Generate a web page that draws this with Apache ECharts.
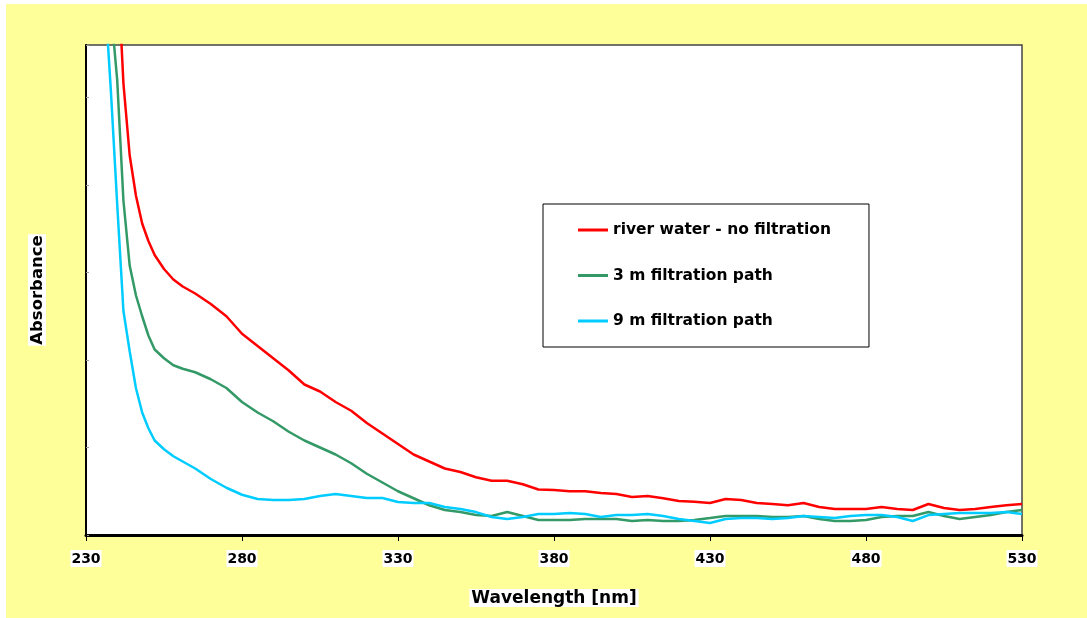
<!DOCTYPE html>
<html>
<head>
<meta charset="utf-8">
<script src="https://cdn.jsdelivr.net/npm/echarts@6/dist/echarts.min.js"></script>
<style>
  html, body { margin: 0; padding: 0; background: #fff; }
  #wrap { position: relative; width: 1087px; height: 618px; overflow: hidden; }
  #paper { position: absolute; left: 6px; top: 4px; right: 0; bottom: 0; background: #FFFF99; }
  #main { position: absolute; left: 0; top: 0; width: 1087px; height: 618px; }
</style>
</head>
<body>
<div id="wrap">
  <div id="paper"></div>
  <div id="main"></div>
</div>
<script>
// wavelengths in nm (finer steps where the curves drop fast)
var wavelengths = [236, 238, 240, 242, 244, 246, 248, 250, 252, 255, 258, 261, 265,
  270, 275, 280, 285, 290, 295, 300, 305, 310, 315, 320, 325, 330, 335, 340, 345, 350,
  355, 360, 365, 370, 375, 380, 385, 390, 395, 400, 405, 410, 415, 420, 425, 430, 435,
  440, 445, 450, 455, 460, 465, 470, 475, 480, 485, 490, 495, 500, 505, 510, 515, 520,
  525, 530];

var riverWater = [4.8, 4.0, 3.3, 2.58, 2.17, 1.94, 1.78, 1.68, 1.60, 1.52, 1.46, 1.42, 1.38,
  1.32, 1.25, 1.15, 1.08, 1.01, 0.94, 0.86, 0.82, 0.76, 0.71, 0.64, 0.58, 0.52, 0.46, 0.42, 0.38, 0.36,
  0.33, 0.31, 0.31, 0.29, 0.26, 0.257, 0.25, 0.25, 0.24, 0.234, 0.217, 0.223, 0.21, 0.194, 0.19, 0.183, 0.206,
  0.20, 0.183, 0.177, 0.17, 0.183, 0.16, 0.149, 0.149, 0.149, 0.16, 0.149, 0.143, 0.177, 0.154, 0.143, 0.149, 0.16,
  0.17, 0.177];

var path3m = [3.5, 3.0, 2.60, 1.91, 1.54, 1.37, 1.25, 1.14, 1.06, 1.01, 0.97, 0.95, 0.93,
  0.89, 0.84, 0.76, 0.70, 0.65, 0.59, 0.54, 0.50, 0.46, 0.41, 0.35, 0.30, 0.25, 0.21, 0.17, 0.143, 0.131,
  0.114, 0.109, 0.131, 0.109, 0.086, 0.086, 0.086, 0.091, 0.091, 0.091, 0.08, 0.086, 0.08, 0.08, 0.086, 0.097, 0.109,
  0.109, 0.109, 0.103, 0.103, 0.109, 0.091, 0.08, 0.08, 0.086, 0.103, 0.109, 0.109, 0.131, 0.109, 0.091, 0.103, 0.114,
  0.131, 0.143];

var path9m = [3.1, 2.53, 1.89, 1.28, 1.05, 0.84, 0.70, 0.61, 0.54, 0.49, 0.45, 0.42, 0.38,
  0.32, 0.27, 0.23, 0.206, 0.20, 0.20, 0.206, 0.223, 0.234, 0.223, 0.211, 0.211, 0.189, 0.183, 0.183, 0.16, 0.149,
  0.131, 0.103, 0.091, 0.103, 0.12, 0.12, 0.126, 0.12, 0.103, 0.114, 0.114, 0.12, 0.109, 0.091, 0.08, 0.069, 0.091,
  0.097, 0.097, 0.091, 0.097, 0.109, 0.103, 0.097, 0.109, 0.114, 0.114, 0.103, 0.08, 0.114, 0.12, 0.126, 0.126, 0.126,
  0.131, 0.12];

var seriesNames = ['river water - no filtration', '3 m filtration path', '9 m filtration path'];
var seriesColors = ['#FF0000', '#339966', '#00CCFF'];
var seriesValues = [riverWater, path3m, path9m];

function pairs(vals) {
  return wavelengths.map(function (w, i) { return [w, vals[i]]; });
}

var chart = echarts.init(document.getElementById('main'));

var font = "'DejaVu Sans', sans-serif";

chart.setOption({
  backgroundColor: 'transparent',
  animation: false,
  textStyle: { fontFamily: font },
  grid: {
    left: 86, right: 65, top: 45, bottom: 83,
    show: true,
    backgroundColor: '#fff',
    borderColor: '#444',
    borderWidth: 1.5
  },
  legend: {
    orient: 'vertical',
    left: 543,
    top: 204,
    padding: [18, 38, 18, 35],
    itemGap: 29.5,
    itemWidth: 30,
    itemHeight: 14,
    icon: 'path://M0,0 L30,0 L30,3 L0,3 Z',
    backgroundColor: '#fff',
    borderColor: '#000',
    borderWidth: 1,
    borderRadius: 0,
    textStyle: { fontSize: 15.5, fontWeight: 'bold', color: '#000', fontFamily: font },
    data: seriesNames
  },
  xAxis: {
    type: 'value',
    min: 230, max: 530, interval: 50,
    name: 'Wavelength [nm]',
    nameLocation: 'middle',
    nameGap: 54,
    nameTextStyle: {
      fontSize: 17, fontWeight: 'bold', color: '#000', fontFamily: font,
      backgroundColor: '#fff', padding: [1, 2, 0, 2]
    },
    axisLine: { lineStyle: { color: '#000', width: 3 } },
    axisTick: { show: true, inside: false, length: 6, lineStyle: { color: '#000', width: 1 } },
    axisLabel: {
      fontSize: 14, fontWeight: 'bold', color: '#000', fontFamily: font,
      margin: 15, backgroundColor: '#fff', padding: [2, 1, 1, 1]
    },
    splitLine: { show: false }
  },
  yAxis: {
    type: 'value',
    min: 0, max: 2.8, interval: 0.5,
    name: 'Absorbance',
    nameLocation: 'middle',
    nameGap: 40,
    nameRotate: 90,
    nameTextStyle: {
      fontSize: 16.5, fontWeight: 'bold', color: '#000', fontFamily: font,
      backgroundColor: '#fff', padding: [1, 1, 0, 1]
    },
    axisLine: { show: true, lineStyle: { color: '#000', width: 2 } },
    axisTick: { show: true, inside: true, length: 3, lineStyle: { color: '#999' } },
    axisLabel: { show: false },
    splitLine: { show: false }
  },
  series: seriesNames.map(function (name, k) {
    return {
      name: name,
      type: 'line',
      data: pairs(seriesValues[k]),
      symbol: 'none',
      clip: true,
      smooth: false,
      color: seriesColors[k],
      lineStyle: { color: seriesColors[k], width: 2.5 }
    };
  })
});
</script>
</body>
</html>
